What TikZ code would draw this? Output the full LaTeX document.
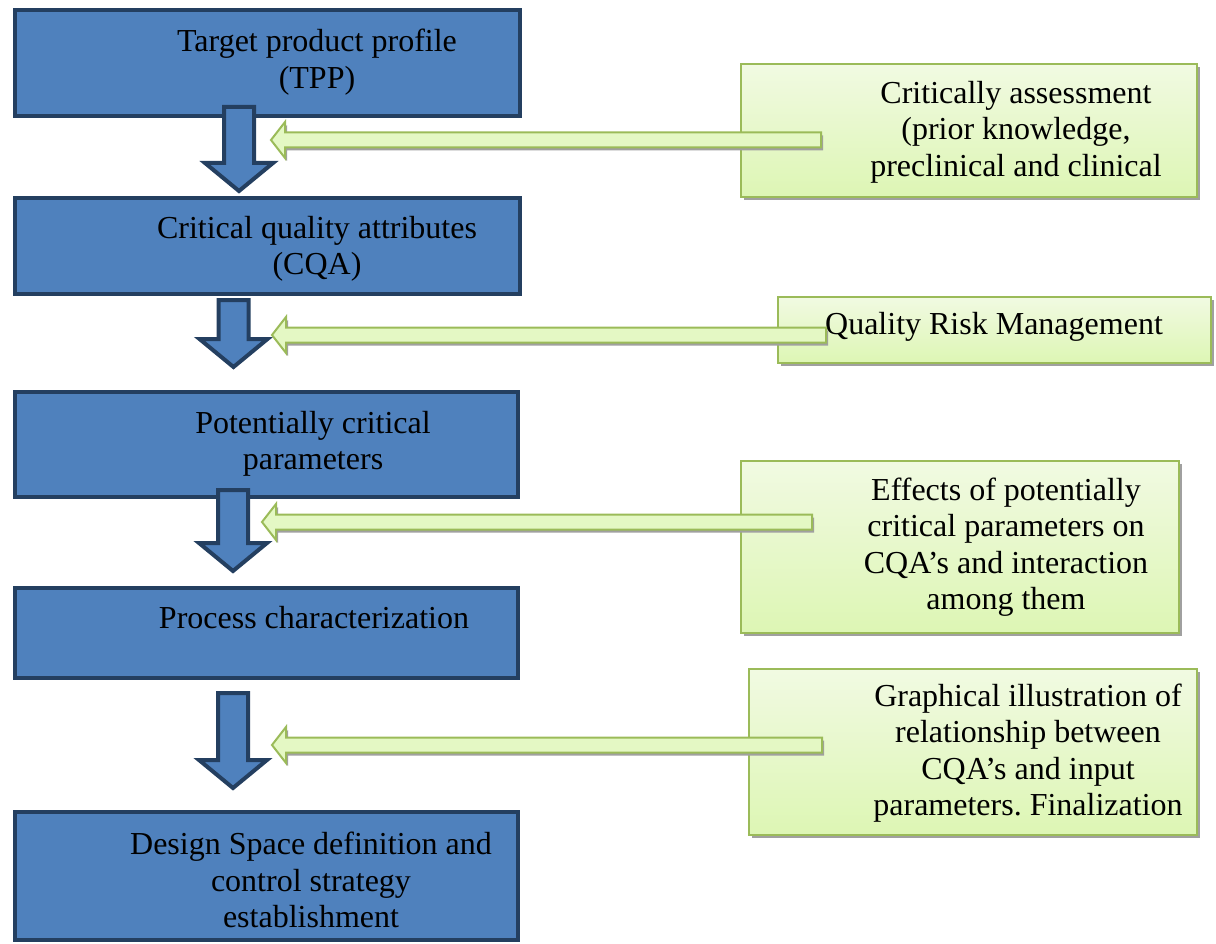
\documentclass[tikz,border=0pt]{standalone}
\usepackage{fontspec}
\setmainfont{Liberation Serif}
\usetikzlibrary{calc,shadows}
\frenchspacing

\definecolor{boxblue}{HTML}{4F81BD}
\definecolor{boxnavy}{HTML}{243F60}
\definecolor{noteedge}{HTML}{9BBB59}
\definecolor{notetop}{HTML}{F1FAE2}
\definecolor{notebottom}{HTML}{DDF6B4}
\definecolor{arrowfill}{HTML}{E4F8C4}
\definecolor{shadowgray}{HTML}{A0A0A0}

\tikzset{
  stepbox/.style={draw=boxnavy, fill=boxblue, line width=4pt, rectangle,
    inner sep=0pt, outer sep=0pt},
  notebox/.style={draw=noteedge, line width=2pt, rectangle,
    top color=notetop, bottom color=notebottom,
    inner sep=0pt, outer sep=0pt,
    drop shadow={shadow xshift=3pt, shadow yshift=-3pt, fill=shadowgray, opacity=1}},
  label text/.style={font=\fontsize{32}{36.5}\selectfont, align=center,
    inner sep=0pt, text=black},
  downarrow/.style={draw=boxnavy, fill=boxblue, line width=4pt, line join=miter},
  feedarrow/.style={draw=noteedge, fill=arrowfill, line width=2pt, line join=miter,
    drop shadow={shadow xshift=2pt, shadow yshift=-3pt, fill=shadowgray, opacity=1}},
}

% block arrow pointing down: #1 top of the shaft, #2 tip
\newcommand\downblock[2]{%
  \path[downarrow] (#2) -- ++(34,-28) -- ++(-19,0) -- ($(#1)+(15,0)$)
    -- ++(-30,0) -- ($(#2)+(-15,-28)$) -- ++(-19,0) -- cycle;}
% block arrow pointing left: #1 tail end, #2 tip
\newcommand\leftblock[2]{%
  \path[feedarrow] (#2) -- ++(14,-18) -- ++(0,10.5) -- ($(#1)+(0,-7.5)$)
    -- ++(0,15) -- ($(#2)+(14,7.5)$) -- ++(0,10.5) -- cycle;}

\begin{document}
\begin{tikzpicture}[x=1pt, y=-1pt]
\useasboundingbox (0,0) rectangle (1216,944);

% main process steps
\node[stepbox, minimum width=505pt, minimum height=106pt] (tpp) at (267.5,63) {};
\node[stepbox, minimum width=505pt, minimum height=96pt]  (cqa) at (267.5,246) {};
\node[stepbox, minimum width=503pt, minimum height=105pt] (pcp) at (266.5,444.5) {};
\node[stepbox, minimum width=503pt, minimum height=90pt]  (proc) at (266.5,633) {};
\node[stepbox, minimum width=503pt, minimum height=128pt] (ds) at (266.5,876) {};

\node[label text] (tpp-t)  at (317,62)  {Target product profile\\(TPP)};
\node[label text] (cqa-t)  at (317,249) {Critical quality attributes\\(CQA)};
\node[label text] (pcp-t)  at (313,444) {Potentially critical\\parameters};
\node[label text] (proc-t) at (314,618) {Process characterization};
\node[label text] (ds-t)   at (311,880) {Design Space definition and\\control strategy\\establishment};

% supporting activities
\node[notebox, minimum width=456pt, minimum height=133pt] (ca)  at (969,130.5) {};
\node[notebox, minimum width=433pt, minimum height=66pt]  (qrm) at (994.5,330) {};
\node[notebox, minimum width=438pt, minimum height=172pt] (eff) at (960,547) {};
\node[notebox, minimum width=448pt, minimum height=166pt] (gi)  at (973,752) {};

\node[label text] (ca-t)  at (1016,132) {Critically assessment\\(prior knowledge,\\preclinical and clinical};
\node[label text] (qrm-t) at (994,327)  {Quality Risk Management};
\node[label text] (eff-t) at (1006,547) {Effects of potentially\\critical parameters on\\CQA’s and interaction\\among them};
\node[label text] (gi-t)  at (1028,753) {Graphical illustration of\\relationship between\\CQA’s and input\\parameters. Finalization};

% flow between the steps
\coordinate (d1a) at (239,107);   \coordinate (d1b) at (239,191);
\coordinate (d2a) at (233.5,300); \coordinate (d2b) at (233.5,367);
\coordinate (d3a) at (233,490);   \coordinate (d3b) at (233,571);
\coordinate (d4a) at (233,693);   \coordinate (d4b) at (233,788);
\downblock{d1a}{d1b}
\downblock{d2a}{d2b}
\downblock{d3a}{d3b}
\downblock{d4a}{d4b}

% inputs feeding the flow
\coordinate (f1a) at (821,140); \coordinate (f1b) at (271,140);
\coordinate (f2a) at (826,335); \coordinate (f2b) at (272,335);
\coordinate (f3a) at (812,522); \coordinate (f3b) at (262,522);
\coordinate (f4a) at (822,745); \coordinate (f4b) at (272,745);
\leftblock{f1a}{f1b}
\leftblock{f2a}{f2b}
\leftblock{f3a}{f3b}
\leftblock{f4a}{f4b}
\end{tikzpicture}
\end{document}
